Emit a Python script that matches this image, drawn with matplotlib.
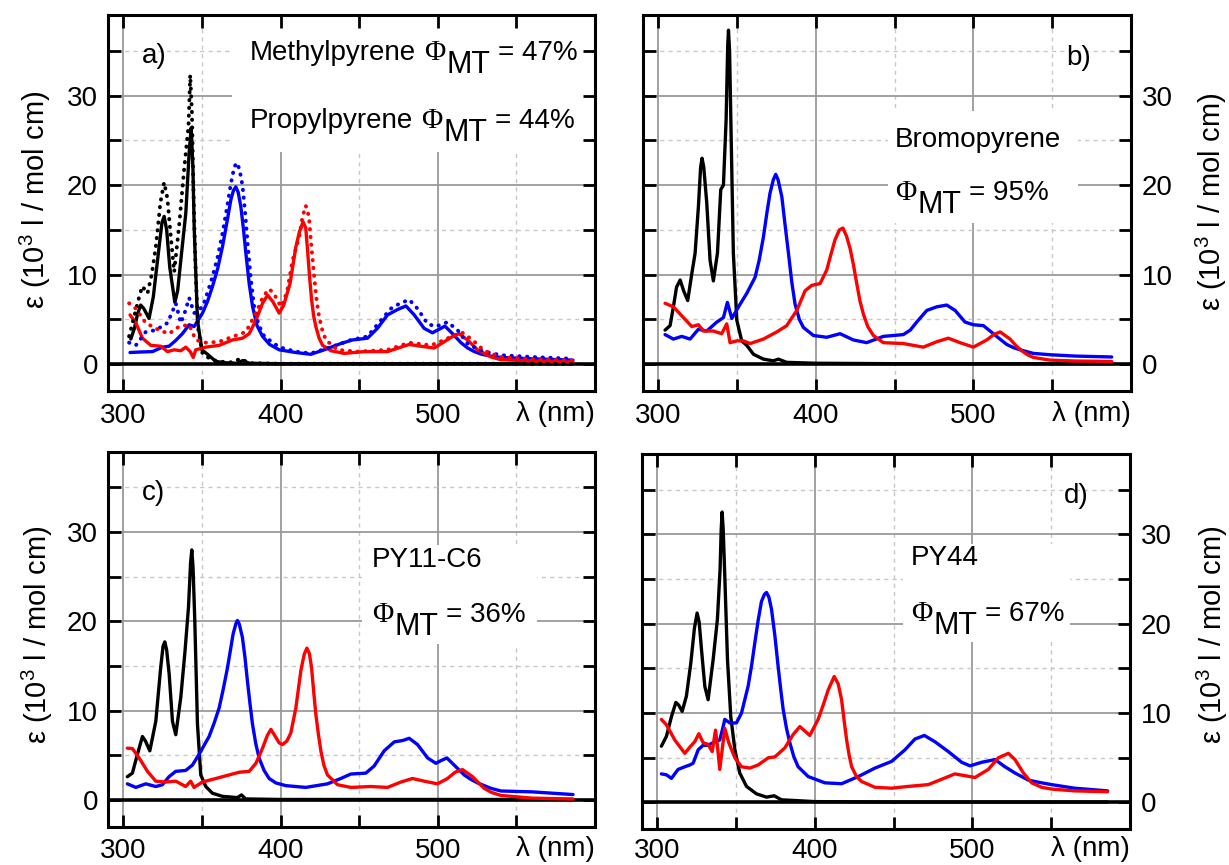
import matplotlib
matplotlib.use("Agg")
import matplotlib.pyplot as plt
from matplotlib.patches import Rectangle

# ---------------------------------------------------------------- data
# wavelength (nm) and extinction coefficient (10^3 l / mol cm)

# a) methyl-/propyl-pyrene: solid = propyl, dotted = methyl
a_black_wl = [304.7, 307, 309, 311, 313, 316.3, 319, 322.7, 324.5, 325.9, 327.5, 329.5, 332.7, 334.5,
              336.5, 339.7, 341.8, 343.1, 344.2, 345, 347.1, 349.9, 353.5, 358.8, 365, 372, 376, 380,
              400, 450, 500, 586]
a_black_eps = [2.8, 4.0, 5.6, 6.6, 6.2, 5.1, 7.5, 13.1, 15.8, 16.5, 15.0, 10.8, 6.9, 8.2,
               11.6, 16.9, 23.6, 26.4, 22.0, 15.4, 4.9, 1.6, 1.1, 0.3, 0.15, 0.1, 0.4, 0.1,
               0.05, 0.05, 0.05, 0.05]
a_black_dot_wl = [303.6, 307.4, 310, 312, 315.3, 318, 320.6, 323.5, 325.9, 328, 330, 332.3, 335.4,
                  338.6, 341.4, 342.5, 343.6, 344.6, 346, 347.5, 350.3, 355, 360, 368, 374.7, 380,
                  400, 450, 500, 586]
a_black_dot_eps = [3.1, 5.7, 7.5, 8.7, 7.9, 10.0, 13.1, 18.0, 20.3, 18.5, 14.5, 10.3, 15.4,
                   21.7, 26.6, 32.3, 28.0, 19.1, 10.0, 4.0, 1.2, 0.6, 0.3, 0.2, 0.6, 0.1,
                   0.05, 0.05, 0.05, 0.05]
a_blue_wl = [304.2, 310, 318.5, 324.8, 329, 333, 337.5, 341.8, 345, 350.3, 353.5, 356.7, 360, 363,
             366, 368.4, 370, 371.5, 373, 374.7, 376.3, 377.9, 380, 382.2, 385, 388.5, 393, 399.1,
             409.7, 419.2, 427.7, 438.3, 445.7, 455.3, 461.6, 468, 474.4, 479.7, 485, 491.3, 496.6,
             500.9, 504.5, 509.4, 514.7, 519, 523.2, 528, 533.8, 540.1, 560, 586]
a_blue_eps = [1.3, 1.35, 1.4, 1.9, 2.0, 2.6, 3.4, 4.4, 4.2, 5.7, 7.0, 8.7, 10.7, 13.1,
              16.0, 18.4, 19.4, 19.8, 19.2, 17.6, 15.2, 12.4, 9.0, 6.4, 4.3, 3.1, 2.2, 1.6,
              1.3, 1.1, 1.6, 2.3, 2.7, 2.9, 4.0, 5.5, 6.1, 6.5, 5.5, 4.0, 3.5,
              3.9, 4.25, 3.4, 2.4, 1.8, 1.4, 1.1, 0.9, 0.75, 0.6, 0.45]
a_blue_dot_wl = [303.6, 307.9, 314.2, 320.6, 328, 331, 333.3, 336.5, 339.5, 341.8, 345, 350.3, 353.5,
                 356.7, 360, 363, 366, 368.4, 370.5, 372, 373.8, 375.8, 377.5, 379, 381, 383.2, 386,
                 389.6, 399.1, 409.7, 419.2, 432, 444.7, 455.3, 463.8, 470.1, 476, 481.8, 487.1,
                 493.5, 498.8, 506.2, 512.6, 518.9, 524, 529.5, 540.1, 560, 586]
a_blue_dot_eps = [2.4, 2.1, 3.6, 3.8, 4.6, 5.8, 6.8, 4.6, 6.0, 7.4, 5.7, 6.4, 8.0,
                  9.8, 12.0, 14.6, 17.6, 20.2, 22.0, 22.5, 21.8, 19.9, 16.8, 13.5, 9.6, 6.4, 4.4,
                  3.1, 1.9, 1.4, 1.2, 1.9, 2.7, 3.1, 4.9, 6.2, 6.8, 7.2, 6.2,
                  4.5, 4.2, 4.7, 3.8, 2.3, 1.8, 1.4, 1.0, 0.8, 0.6]
a_red_wl = [304.2, 307.9, 312.1, 317.4, 323.8, 328, 332.3, 336.5, 339.7, 342.5, 344.4, 346, 352.4,
            360.9, 369.4, 375.8, 380, 384.3, 388.5, 391.7, 395, 399.1, 402, 406, 409.7, 412, 414.3,
            416, 417.1, 418.4, 419.7, 421, 422.4, 424.5, 426.7, 432, 440.4, 453.2, 468, 476.5,
            481.8, 489.2, 497.7, 504.1, 510.4, 513.6, 518.9, 525.3, 533.8, 540.1, 560, 586]
a_red_eps = [5.5, 4.6, 2.9, 2.1, 2.0, 1.4, 1.6, 1.5, 1.9, 1.4, 0.75, 1.6, 1.9,
             2.1, 2.7, 2.9, 3.4, 4.9, 6.8, 7.7, 7.0, 5.7, 6.6, 9.0, 13.1, 14.8, 15.9,
             15.2, 12.8, 9.8, 7.2, 5.4, 4.2, 2.9, 2.1, 1.5, 1.2, 1.4, 1.4, 1.9,
             2.2, 2.0, 1.8, 2.5, 3.2, 3.4, 2.7, 1.6, 0.8, 0.5, 0.35, 0.25]
a_red_dot_wl = [303.6, 307.9, 314.2, 322.7, 329, 335.4, 341.8, 346, 352.4, 360.9, 371.5, 377.9,
                384.3, 389, 392.8, 396, 400.2, 404, 407.6, 411.8, 414, 416, 418, 419.2, 420.5,
                421.8, 423, 424.5, 426.5, 428.8, 436.2, 448.9, 468, 481.8, 495.6, 504.1, 510,
                515.7, 522.1, 529.5, 540.1, 560, 586]
a_red_dot_eps = [6.8, 6.2, 4.6, 3.8, 3.4, 4.2, 4.4, 2.7, 2.4, 2.5, 3.2, 3.6,
                 5.7, 7.6, 8.4, 7.8, 6.4, 8.0, 11.6, 14.2, 16.5, 17.7, 16.5, 13.9, 11.4,
                 9.0, 7.0, 5.3, 3.8, 2.7, 1.6, 1.4, 1.6, 2.4, 2.1, 2.7, 3.2,
                 3.5, 2.7, 1.5, 0.8, 0.55, 0.4]

# b) bromopyrene
b_black_wl = [304.2, 307.4, 309.5, 311.5, 313.8, 316, 318.6, 321.2, 323.3, 325.4, 326.8, 327.7,
              328.8, 330.7, 332.8, 334.9, 337.5, 339.6, 341.3, 343, 344, 344.5, 345.2, 346, 347.6,
              349.8, 352.9, 356.1, 360.4, 366.7, 373, 376.2, 381.5, 400, 450, 500, 588]
b_black_eps = [3.8, 4.3, 6.4, 8.6, 9.4, 8.2, 7.1, 10.1, 12.4, 17.6, 22.0, 23.0,
               22.0, 18.0, 11.6, 9.3, 12.4, 19.5, 20.0, 27.3, 35.5, 37.3, 35.0, 27.3, 12.4,
               4.9, 2.6, 2.1, 1.1, 0.56, 0.37, 0.56, 0.2, 0.1, 0.05, 0.05, 0.05]
b_blue_wl = [304.2, 309.5, 314.8, 320.1, 325.4, 330.7, 337.1, 341.3, 343.8, 346.6, 351.9, 356.1,
             361.4, 364, 366.7, 369, 370.9, 373, 374.5, 376, 378.4, 380.5, 382.6, 384.7, 386.8,
             389.5, 392.1, 398.5, 406.9, 415.4, 423.9, 432.3, 442.9, 455.6, 460, 464.1, 470.5,
             476.8, 483.2, 488.5, 494.8, 500.1, 506.5, 512.8, 517, 521.3, 525.5, 529.8, 538.2,
             548.8, 565, 588]
b_blue_eps = [3.3, 2.8, 3.1, 2.8, 3.9, 3.7, 4.7, 5.2, 6.9, 5.1, 6.7, 7.9,
              9.7, 11.6, 14.2, 17.0, 19.1, 20.6, 21.2, 20.6, 18.7, 15.5, 12.4, 9.2, 6.7,
              5.0, 4.1, 3.2, 3.0, 3.4, 2.7, 2.4, 3.1, 3.3, 3.8, 4.7, 6.0,
              6.4, 6.6, 6.0, 4.7, 4.4, 4.3, 3.4, 2.8, 2.2, 1.85, 1.6, 1.2,
              1.05, 0.9, 0.8]
b_red_wl = [304.2, 309.5, 315.9, 321.2, 325.4, 328.6, 334.9, 340.2, 343.4, 345.5, 349.8, 354,
            358.2, 366.7, 375.2, 381.5, 387.9, 393.2, 397.4, 402.7, 406.9, 409.5, 412.2, 415,
            417.2, 419.5, 421.8, 424, 426, 428, 430.2, 433, 436.6, 442.9, 455.6, 468.3, 476.8,
            484.2, 491.6, 500.1, 508.6, 513, 517.1, 523.4, 527, 530.8, 534.5, 538.2, 548.8,
            565, 588]
b_red_eps = [6.8, 6.4, 5.2, 4.2, 4.4, 3.7, 3.7, 3.4, 4.5, 2.4, 2.6, 2.6,
             2.3, 2.8, 3.6, 4.3, 6.0, 8.2, 8.8, 9.0, 10.5, 12.2, 13.9, 15.0,
             15.2, 14.3, 12.9, 11.0, 9.0, 7.1, 5.6, 4.2, 3.2, 2.4, 2.3, 1.9, 2.5,
             2.9, 2.4, 1.9, 2.7, 3.3, 3.6, 2.8, 2.1, 1.5, 1.05, 0.75, 0.45,
             0.35, 0.3]

# c) PY11-C6
c_black_wl = [302.5, 305.7, 308.9, 312.1, 314, 316.8, 320.6, 323.7, 325.2, 326.3, 327.5, 329.1,
              331.2, 333.3, 336.5, 339.2, 341.4, 342.7, 343.5, 344.3, 345.4, 347.1, 349.2, 352.4,
              356.6, 363, 372.5, 375.1, 377.8, 400, 450, 500, 586]
c_black_eps = [2.6, 3.0, 5.1, 7.1, 6.6, 5.5, 8.8, 14.8, 17.2, 17.7, 16.8, 14.1,
               8.8, 7.3, 11.5, 16.7, 21.6, 26.5, 28.0, 26.0, 20.1, 8.5, 2.8, 1.5,
               0.75, 0.4, 0.26, 0.56, 0.11, 0.05, 0.05, 0.05, 0.05]
c_blue_wl = [302.5, 307.9, 314.2, 320.6, 324.8, 329, 333.3, 339.6, 343.9, 348.1, 354.5, 357.7,
             360.9, 363.5, 366.2, 369.8, 371.5, 372.5, 373.7, 375.7, 377.3, 378.9, 380.5, 382.1,
             384.2, 386.3, 389.5, 392.7, 397, 403.3, 416, 429.8, 438.3, 444.7, 454.2, 459.5,
             465.9, 472.3, 477.6, 481.8, 487.1, 493.5, 498.8, 502, 505.8, 510.4, 516.8, 521,
             525.3, 533.8, 540.1, 560, 586]
c_blue_eps = [1.8, 1.4, 1.8, 1.5, 1.7, 2.6, 3.2, 3.3, 3.9, 5.1, 7.1, 8.6,
              10.3, 12.4, 14.8, 18.6, 19.7, 20.1, 19.7, 18.2, 16.0, 13.3, 10.8, 8.5,
              6.3, 4.7, 3.3, 2.4, 1.9, 1.6, 1.4, 1.8, 2.4, 2.9, 3.0, 3.8,
              5.5, 6.5, 6.65, 6.9, 6.2, 4.7, 4.1, 4.4, 4.7, 3.9, 2.8, 2.3,
              1.9, 1.3, 1.0, 0.9, 0.6]
c_red_wl = [302.5, 305.7, 310, 315.3, 320.6, 326.9, 333.3, 339.6, 342.8, 344.9, 350.2, 358.8,
            367.3, 373.7, 380, 384.3, 388.5, 391.5, 393.8, 396, 399, 401.2, 404, 406.5, 409.7,
            412.9, 415, 416.7, 418.3, 419.7, 421, 422.4, 424, 425.6, 427.5, 429.8, 436.2, 444.7,
            457.4, 468, 476.5, 483.9, 491.3, 499.8, 506.2, 511, 515.7, 522.1, 526, 529.5, 534,
            540.1, 560, 586]
c_red_eps = [5.8, 5.75, 4.7, 3.2, 2.1, 2.0, 2.1, 1.5, 2.1, 1.4, 2.0, 2.4,
             2.8, 3.1, 3.2, 4.1, 5.8, 7.2, 7.9, 7.3, 6.4, 6.2, 6.6, 7.5, 10.3,
             14.5, 16.3, 17.0, 16.4, 14.8, 12.2, 9.6, 7.4, 5.5, 3.9, 2.8, 1.7, 1.4,
             1.5, 1.4, 2.0, 2.4, 2.1, 1.8, 2.4, 3.1, 3.4, 2.6, 1.9, 1.3, 0.85,
             0.5, 0.2, 0.1]

# d) PY44
d_black_wl = [302.5, 305.7, 308.9, 311.7, 313.5, 315.7, 318.4, 321.2, 323.5, 325.2, 326.5, 328,
              330.1, 332.2, 335.4, 338.1, 339.8, 340.5, 341.1, 341.8, 342.8, 344.5, 346.6, 349.2,
              352.3, 356.6, 362.9, 369.3, 374.2, 378.8, 400, 450, 500, 586]
d_black_eps = [6.3, 7.4, 9.6, 11.2, 10.9, 10.2, 11.9, 15.6, 19.5, 21.2, 20.2, 17.1,
               13.0, 11.5, 16.0, 20.5, 26.1, 30.5, 32.5, 30.5, 25.3, 16.0, 9.6, 5.9,
               3.3, 1.8, 0.97, 0.6, 0.75, 0.3, 0.1, 0.05, 0.05, 0.05]
d_blue_wl = [302.5, 305.7, 308.9, 313.1, 317.4, 320.6, 322.7, 325.9, 329, 332.2, 335.4, 339.6,
             341.5, 342.8, 346, 350.2, 353.4, 357.6, 359.8, 361.9, 364, 366.1, 368, 369.3, 370.8,
             372.5, 374.6, 376.7, 378.3, 379.9, 382, 384.1, 386.7, 389.4, 395.8, 406.4, 417,
             427.6, 438.2, 448.8, 457.3, 463.6, 469.6, 476.3, 484.8, 493.3, 498.6, 506, 514.5,
             520.8, 527.2, 535.7, 544.1, 550.5, 565, 586]
d_blue_eps = [3.2, 3.1, 2.7, 3.7, 4.0, 4.2, 4.4, 5.9, 6.4, 6.4, 6.7, 7.0,
              8.3, 9.3, 8.9, 8.9, 10.0, 13.0, 15.3, 17.9, 20.4, 22.5, 23.3, 23.5, 23.0,
              21.6, 18.7, 15.2, 12.7, 10.4, 8.3, 6.7, 5.1, 4.0, 2.9, 2.2, 2.1,
              2.9, 3.85, 4.6, 5.9, 7.1, 7.5, 6.8, 5.7, 4.5, 4.1, 4.5, 4.8,
              4.0, 3.3, 2.5, 2.2, 2.0, 1.6, 1.3]
d_red_wl = [302.5, 305.7, 311, 317.4, 320.6, 323.7, 326.3, 329, 332.2, 334.8, 336.9, 338.3,
            339.6, 341.2, 342.8, 345.3, 349.2, 353.4, 358.7, 364, 370.4, 374.6, 380.9, 386.2,
            390.5, 396.8, 402.1, 405.5, 408.5, 412.3, 414.8, 417, 418.6, 420.2, 421.8, 423.4,
            426.5, 429.7, 438.2, 448.8, 459.4, 472.1, 480.6, 489, 495.4, 501.8, 510.2, 516.6,
            523, 527.2, 532.5, 537.8, 544.1, 550.5, 565, 586]
d_red_eps = [9.3, 8.7, 7.0, 5.5, 6.2, 6.8, 7.7, 6.7, 6.5, 5.7, 8.1, 6.0,
             3.7, 6.0, 8.3, 6.7, 5.0, 4.0, 3.85, 4.2, 5.0, 5.1, 6.1, 7.6,
             8.5, 7.5, 9.3, 11.0, 12.6, 14.1, 13.3, 11.5, 9.2, 7.0, 5.3, 4.0,
             2.9, 2.35, 1.7, 1.6, 1.8, 2.0, 2.6, 3.2, 3.0, 2.8, 3.7, 5.0,
             5.5, 4.8, 3.3, 2.2, 1.7, 1.5, 1.3, 1.2]

panel_letters = ["a)", "b)", "c)", "d)"]
compound_lines = [
    [("Methylpyrene", "47%"), ("Propylpyrene", "44%")],
    [("Bromopyrene", None), (None, "95%")],
    [("PY11-C6", None), (None, "36%")],
    [("PY44", None), (None, "67%")],
]
x_ticks = [300, 350, 400, 450, 500, 550]
x_tick_labels = ["300", "", "400", "", "500", ""]
y_ticks = [0, 5, 10, 15, 20, 25, 30, 35]
y_tick_labels = ["0", "", "10", "", "20", "", "30", ""]
y_label = r"ε (10$^{\mathregular{3}}$ l / mol cm)"
x_label = "λ (nm)"

# ---------------------------------------------------------------- style
W, H = 1229, 865
SANS = ["Liberation Sans", "DejaVu Sans"]
SERIF = ["Liberation Serif", "DejaVu Serif"]
plt.rcParams["font.family"] = SANS
FS = 20
BLACK, BLUE, RED = "#000000", "#0000ff", "#ff0000"
LW = 2.4
DOTS = dict(linestyle=(0, (0.1, 1.9)), dash_capstyle="round", lw=2.8)

fig = plt.figure(figsize=(W / 100, H / 100), dpi=100)


def px_rect(left, right, top, bottom):
    return [left / W, 1 - bottom / H, (right - left) / W, (bottom - top) / H]


rects = [
    px_rect(107.7, 595.0, 15.0, 391.0),
    px_rect(642.7, 1130.6, 15.0, 391.0),
    px_rect(107.7, 595.0, 451.7, 826.7),
    px_rect(641.7, 1129.6, 454.0, 829.3),
]
# x tick-label padding (points) and x-label drop (pixels) per panel
x_pads = [9, 9, 8, 6.5]
x_label_drop = [30, 30, 29, 27]
# y-label centres in figure pixels
ylabel_pos = [(35, 200), (1211, 202), (37, 635), (1212, 635)]
# white panels behind the annotation text (data coords: x0, x1, y0, y1)
text_boxes = [(369, 600, 23.7, 39), (446, 566.5, 15.8, 28.3),
              (452, 563, 17.5, 28.5), (456, 562, 18.0, 28.9)]

curves = [
    [(a_black_wl, a_black_eps, BLACK, None), (a_black_dot_wl, a_black_dot_eps, BLACK, "dot"),
     (a_blue_wl, a_blue_eps, BLUE, None), (a_blue_dot_wl, a_blue_dot_eps, BLUE, "dot"),
     (a_red_wl, a_red_eps, RED, None), (a_red_dot_wl, a_red_dot_eps, RED, "dot")],
    [(b_black_wl, b_black_eps, BLACK, None), (b_blue_wl, b_blue_eps, BLUE, None),
     (b_red_wl, b_red_eps, RED, None)],
    [(c_black_wl, c_black_eps, BLACK, None), (c_blue_wl, c_blue_eps, BLUE, None),
     (c_red_wl, c_red_eps, RED, None)],
    [(d_black_wl, d_black_eps, BLACK, None), (d_blue_wl, d_blue_eps, BLUE, None),
     (d_red_wl, d_red_eps, RED, None)],
]

axes = []
for i, rect in enumerate(rects):
    ax = fig.add_axes(rect)
    axes.append(ax)
    right_side = i in (1, 3)
    ax.set_xlim(290, 600)
    ax.set_ylim(-3, 39)

    # grid: solid at labelled values, dashed halfway between
    for v in (300, 400, 500):
        ax.axvline(v, color="#9a9a9a", lw=1.3, zorder=0.5)
    for v in (350, 450, 550):
        ax.axvline(v, color="#c8c8c8", lw=1.0, ls=(0, (3, 3)), zorder=0.5)
    for v in (10, 20, 30):
        ax.axhline(v, color="#9a9a9a", lw=1.3, zorder=0.5)
    for v in (5, 15, 25, 35):
        ax.axhline(v, color="#c8c8c8", lw=1.0, ls=(0, (3, 3)), zorder=0.5)
    x0, x1, y0, y1 = text_boxes[i]
    ax.add_patch(Rectangle((x0, y0), x1 - x0, y1 - y0, facecolor="white",
                           edgecolor="none", zorder=1))
    ax.axhline(0, color="black", lw=2.6, zorder=1.5)

    for wl, eps, col, style in curves[i]:
        if style == "dot":
            ax.plot(wl, eps, color=col, zorder=2.5, **DOTS)
        else:
            ax.plot(wl, eps, color=col, lw=LW, zorder=2.4,
                    solid_joinstyle="round", solid_capstyle="round")

    ax.set_xticks(x_ticks)
    ax.set_xticklabels(x_tick_labels)
    ax.set_yticks(y_ticks)
    ax.set_yticklabels(y_tick_labels)
    ax.tick_params(axis="both", direction="in", length=9, width=2.0, labelsize=FS,
                   top=True, bottom=True, left=True, right=True)
    ax.tick_params(axis="x", pad=x_pads[i])
    if right_side:
        ax.tick_params(axis="y", labelleft=False, labelright=True, pad=8)
    else:
        ax.tick_params(axis="y", pad=7)
    for sp in ax.spines.values():
        sp.set_linewidth(2.2)
    ax.annotate(x_label, xy=(1, 0), xycoords="axes fraction", xytext=(0, -x_label_drop[i]),
                textcoords="offset pixels", ha="right", va="baseline", fontsize=FS)
    lx, ly = ylabel_pos[i]
    fig.text(lx / W, 1 - ly / H, y_label, rotation=90, ha="center", va="center",
             fontsize=21)

# ---------------------------------------------------------------- labels
renderer = fig.canvas.get_renderer()
SPACE = 0.278 * FS * 100 / 72


def write_runs(x_px, base_px, runs):
    x = x_px
    for text, fam, size, drop, gap in runs:
        t = fig.text(x / W, 1 - (base_px + drop) / H, text, family=fam, fontsize=size,
                     ha="left", va="baseline", zorder=5)
        x += t.get_window_extent(renderer).width + gap


def phi_runs(value):
    return [("Φ", SERIF, 21, 0, 1.0), ("MT", SANS, 22, 13, SPACE), ("= " + value, SANS, FS, 0, 0)]


letter_pos = [(142, 63), (1066, 65), (142, 500), (1064, 503)]
line_pos = [
    [(250, 60), (250, 128)],
    [(895, 147), (895, 200)],
    [(372, 567), (372, 622)],
    [(911, 565), (911, 621)],
]

for i in range(4):
    lx, ly = letter_pos[i]
    write_runs(lx, ly, [(panel_letters[i], SANS, FS, 0, 0)])
    for (name, value), (px, py) in zip(compound_lines[i], line_pos[i]):
        runs = []
        if name is not None:
            runs.append((name, SANS, FS, 0, SPACE))
        if value is not None:
            runs += phi_runs(value)
        write_runs(px, py, runs)

fig.savefig("out.png", dpi=100)
